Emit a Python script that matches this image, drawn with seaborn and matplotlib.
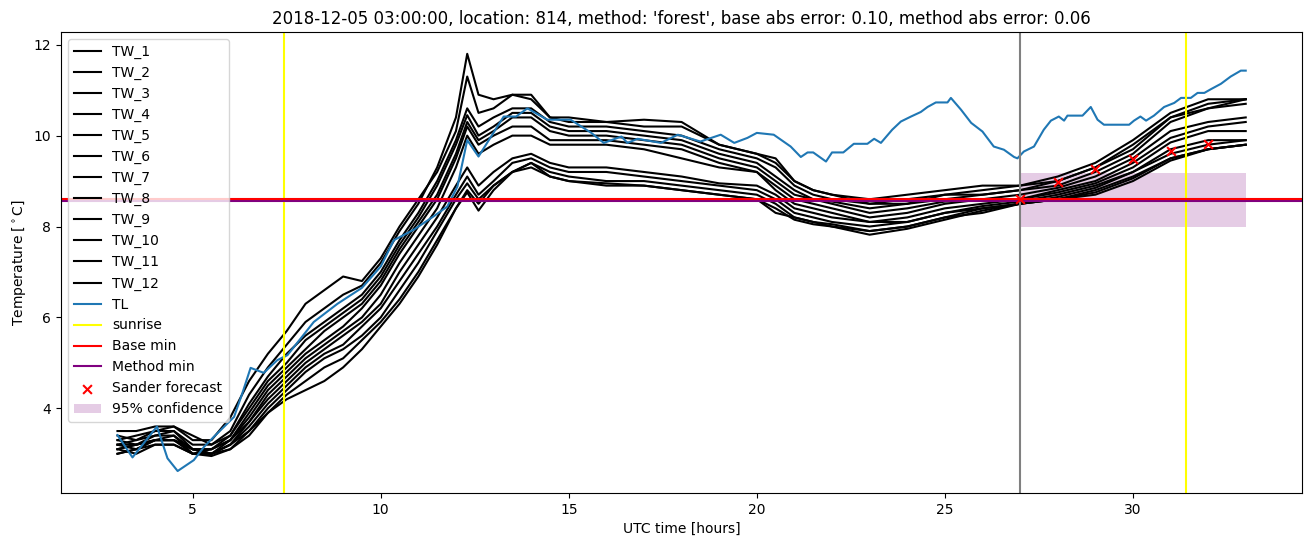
import numpy as np
import pandas as pd
import matplotlib
matplotlib.use("Agg")
import matplotlib.pyplot as plt
import seaborn as sns

# ---------------- data ----------------
hours = [3, 3.5, 4, 4.5, 5, 5.5, 6, 6.5, 7, 7.5, 8, 8.5, 9, 9.5, 10, 10.5, 11, 11.5, 12, 12.3,
         12.6, 13, 13.5, 14, 14.5, 15, 16, 17, 18, 19, 20, 20.5, 21, 21.5, 22, 23, 24, 25, 26,
         27, 28, 29, 30, 31, 32, 33]

tw_1 = [3.5, 3.5, 3.6, 3.6, 3.3, 3.3, 3.8, 4.6, 5.2, 5.7, 6.3, 6.6, 6.9, 6.8, 7.3, 8.0, 8.6, 9.2, 10.1, 11.3,
        10.5, 10.6, 10.9, 10.9, 10.4, 10.3, 10.3, 10.35, 10.3, 9.8, 9.6, 9.4, 9.0, 8.8, 8.7, 8.6, 8.7, 8.8, 8.9,
        8.9, 9.1, 9.4, 9.9, 10.5, 10.8, 10.8]
tw_2 = [3.3, 3.4, 3.5, 3.6, 3.4, 3.2, 3.5, 4.3, 4.9, 5.4, 5.9, 6.2, 6.5, 6.7, 7.2, 7.9, 8.5, 9.3, 10.4, 11.8,
        10.9, 10.8, 10.9, 10.8, 10.4, 10.4, 10.3, 10.2, 10.2, 9.8, 9.6, 9.5, 9.0, 8.8, 8.7, 8.5, 8.6, 8.7, 8.8,
        8.9, 9.0, 9.3, 9.8, 10.4, 10.7, 10.8]
tw_3 = [3.2, 3.3, 3.5, 3.5, 3.2, 3.2, 3.4, 4.1, 4.7, 5.2, 5.6, 5.9, 6.2, 6.5, 7.0, 7.7, 8.3, 9.0, 9.9, 10.6,
        10.2, 10.4, 10.6, 10.6, 10.3, 10.2, 10.2, 10.1, 10.0, 9.7, 9.5, 9.3, 8.9, 8.7, 8.6, 8.5, 8.5, 8.7, 8.7,
        8.8, 9.0, 9.3, 9.7, 10.4, 10.6, 10.7]
tw_4 = [3.4, 3.3, 3.4, 3.5, 3.1, 3.1, 3.4, 4.0, 4.6, 5.0, 5.5, 5.8, 6.1, 6.4, 6.9, 7.6, 8.2, 8.9, 9.8, 10.45,
        10.0, 10.2, 10.5, 10.5, 10.2, 10.1, 10.1, 10.0, 9.9, 9.6, 9.4, 9.1, 8.8, 8.6, 8.55, 8.4, 8.5, 8.6, 8.7,
        8.8, 8.9, 9.2, 9.6, 10.3, 10.6, 10.8]
tw_5 = [3.1, 3.2, 3.4, 3.4, 3.1, 3.0, 3.3, 3.9, 4.5, 4.9, 5.3, 5.7, 6.0, 6.3, 6.8, 7.5, 8.1, 8.7, 9.6, 10.3,
        9.9, 10.1, 10.4, 10.4, 10.1, 10.0, 10.0, 9.9, 9.8, 9.5, 9.3, 9.0, 8.7, 8.6, 8.5, 8.3, 8.4, 8.55, 8.6,
        8.7, 8.85, 9.1, 9.5, 10.1, 10.3, 10.4]
tw_6 = [3.3, 3.2, 3.3, 3.4, 3.0, 3.1, 3.3, 3.8, 4.4, 4.8, 5.2, 5.5, 5.8, 6.2, 6.7, 7.4, 8.0, 8.6, 9.5, 10.2,
        9.8, 10.0, 10.2, 10.2, 9.9, 9.9, 9.9, 9.8, 9.7, 9.4, 9.2, 8.9, 8.6, 8.5, 8.4, 8.2, 8.3, 8.5, 8.6,
        8.6, 8.8, 9.0, 9.4, 9.95, 10.2, 10.3]
tw_7 = [3.2, 3.1, 3.3, 3.3, 3.0, 3.0, 3.2, 3.7, 4.3, 4.7, 5.1, 5.4, 5.7, 6.0, 6.5, 7.2, 7.8, 8.4, 9.3, 10.0,
        9.6, 9.8, 10.0, 10.0, 9.8, 9.8, 9.8, 9.7, 9.5, 9.3, 9.2, 8.8, 8.5, 8.4, 8.3, 8.1, 8.2, 8.4, 8.5,
        8.6, 8.75, 8.95, 9.3, 9.85, 10.1, 10.1]
tw_8 = [3.0, 3.1, 3.3, 3.3, 3.1, 3.1, 3.3, 3.7, 4.2, 4.6, 5.0, 5.3, 5.6, 5.9, 6.3, 7.0, 7.6, 8.2, 8.9, 9.3,
        8.9, 9.2, 9.5, 9.6, 9.4, 9.3, 9.3, 9.2, 9.1, 8.95, 8.9, 8.7, 8.4, 8.3, 8.2, 8.1, 8.1, 8.3, 8.45,
        8.55, 8.7, 8.9, 9.2, 9.7, 9.9, 9.9]
tw_9 = [3.1, 3.0, 3.2, 3.2, 3.0, 3.0, 3.2, 3.6, 4.1, 4.5, 4.9, 5.2, 5.4, 5.8, 6.2, 6.8, 7.4, 8.0, 8.7, 9.1,
        8.7, 9.0, 9.4, 9.5, 9.3, 9.2, 9.2, 9.1, 9.0, 8.9, 8.8, 8.6, 8.3, 8.2, 8.1, 8.0, 8.1, 8.3, 8.4,
        8.5, 8.65, 8.85, 9.2, 9.6, 9.8, 9.9]
tw_10 = [3.2, 3.2, 3.3, 3.3, 3.1, 3.0, 3.1, 3.5, 4.0, 4.4, 4.8, 5.1, 5.3, 5.6, 6.0, 6.6, 7.2, 7.9, 8.6, 8.95,
         8.6, 8.9, 9.2, 9.4, 9.2, 9.1, 9.0, 9.0, 8.9, 8.8, 8.7, 8.5, 8.2, 8.1, 8.05, 7.9, 8.0, 8.2, 8.4,
         8.5, 8.6, 8.8, 9.1, 9.5, 9.7, 9.8]
tw_11 = [3.0, 3.1, 3.2, 3.2, 3.0, 2.95, 3.1, 3.4, 3.9, 4.3, 4.6, 4.9, 5.1, 5.5, 5.9, 6.4, 7.0, 7.7, 8.4, 8.75,
         8.35, 8.8, 9.2, 9.4, 9.1, 9.0, 8.9, 8.9, 8.8, 8.7, 8.6, 8.4, 8.15, 8.05, 8.0, 7.82, 7.95, 8.15, 8.35,
         8.5, 8.6, 8.75, 9.06, 9.5, 9.7, 9.8]
tw_12 = [3.1, 3.2, 3.3, 3.3, 3.1, 3.0, 3.2, 3.5, 3.9, 4.2, 4.4, 4.6, 4.9, 5.3, 5.8, 6.3, 6.9, 7.6, 8.4, 8.8,
         8.5, 8.9, 9.2, 9.3, 9.1, 9.0, 8.95, 8.9, 8.8, 8.7, 8.6, 8.3, 8.2, 8.1, 8.0, 7.9, 8.0, 8.2, 8.3,
         8.5, 8.6, 8.7, 9.0, 9.45, 9.7, 9.8]

tl_hours = [3.0, 3.4, 4.05, 4.33, 4.6, 5.03, 5.3, 5.56, 6.1, 6.32, 6.54, 6.89, 7.25, 7.52, 8.22, 8.85, 9.5,
            10.0, 10.35, 10.88, 11.4, 11.77, 12.04, 12.3, 12.6, 13.27, 13.6, 13.9, 14.43, 15.05, 15.6, 15.93,
            16.4, 16.56, 16.83, 17.45, 17.9, 18.5, 19.04, 19.4, 19.75, 20.0, 20.45, 20.9, 21.17, 21.35, 21.5,
            21.84, 22.0, 22.3, 22.58, 22.94, 23.12, 23.3, 23.6, 23.83, 24.1, 24.36, 24.54, 24.76, 25.07, 25.16,
            25.43, 25.7, 26.0, 26.3, 26.57, 26.84, 26.93, 27.1, 27.37, 27.63, 27.82, 28.03, 28.17, 28.26, 28.66,
            28.88, 29.06, 29.23, 29.9, 30.03, 30.2, 30.35, 30.56, 30.83, 31.1, 31.28, 31.54, 31.72, 31.9, 32.07,
            32.34, 32.6, 32.87, 33.0]
tl_values = [3.41, 2.92, 3.6, 2.9, 2.62, 2.86, 3.15, 3.37, 3.81, 4.33, 4.89, 4.78, 5.06, 5.17, 5.9, 6.3, 6.65,
             7.12, 7.7, 7.93, 8.22, 8.44, 8.88, 9.9, 9.54, 10.42, 10.42, 10.6, 10.35, 10.35, 10.06, 9.84,
             9.98, 9.84, 9.93, 9.84, 10.02, 9.87, 10.02, 9.84, 9.95, 10.06, 10.02, 9.76, 9.53, 9.63, 9.63,
             9.43, 9.63, 9.63, 9.82, 9.82, 9.93, 9.84, 10.13, 10.31, 10.42, 10.52, 10.63, 10.73, 10.73, 10.83,
             10.57, 10.28, 10.09, 9.76, 9.69, 9.53, 9.5, 9.65, 9.76, 10.13, 10.33, 10.42, 10.33, 10.44, 10.44,
             10.63, 10.35, 10.24, 10.24, 10.33, 10.42, 10.33, 10.44, 10.63, 10.72, 10.83, 10.83, 10.94, 10.94, 11.02,
             11.14, 11.3, 11.43, 11.43]

sunrise_hours = [7.42, 31.4]
forecast_start = 27.0
base_min = 8.6
method_min = 8.56
sander_hours = [27, 28, 29, 30, 31, 32]
sander_values = [8.61, 8.99, 9.26, 9.48, 9.67, 9.82]
conf_hours = [27.0, 33.0]
conf_low = 8.0
conf_high = 9.18

tw_series = [tw_1, tw_2, tw_3, tw_4, tw_5, tw_6, tw_7, tw_8, tw_9, tw_10, tw_11, tw_12]
tw_names = [f"TW_{i}" for i in range(1, 13)]

title = ("2018-12-05 03:00:00, location: 814, method: 'forest', "
         "base abs error: 0.10, method abs error: 0.06")

# ---------------- plot ----------------
fig, ax = plt.subplots(figsize=(13.1, 5.47), dpi=100)
fig.subplots_adjust(left=0.0466, right=0.994, top=0.9415, bottom=0.099)

for name, vals in zip(tw_names, tw_series):
    sns.lineplot(x=hours, y=vals, color="black", label=name, ax=ax, linewidth=1.5)

sns.lineplot(x=tl_hours, y=tl_values, color="tab:blue", label="TL", ax=ax, linewidth=1.5)

ax.axvline(sunrise_hours[0], color="yellow", label="sunrise")
ax.axvline(sunrise_hours[1], color="yellow")
ax.axvline(forecast_start, color="grey")
ax.axhline(method_min, color="purple", label="_nolegend_")
ax.axhline(base_min, color="red", label="Base min")
# purple legend entry kept in original order
ax.plot([], [], color="purple", label="Method min")

sns.scatterplot(x=sander_hours, y=sander_values, marker="x", color="red", s=40,
                linewidth=1.5, label="Sander forecast", ax=ax, zorder=5)
ax.fill_between(conf_hours, conf_low, conf_high, color="purple", alpha=0.2,
                linewidth=0, label="95% confidence")

ax.set_xlim(1.5, 34.5)
ax.set_ylim(2.14, 12.28)
ax.set_xlabel("UTC time [hours]")
ax.set_ylabel(r"Temperature [$^\circ$C]")
ax.set_title(title)
ax.legend(loc="upper left")

fig.savefig("out.png", dpi=100)
